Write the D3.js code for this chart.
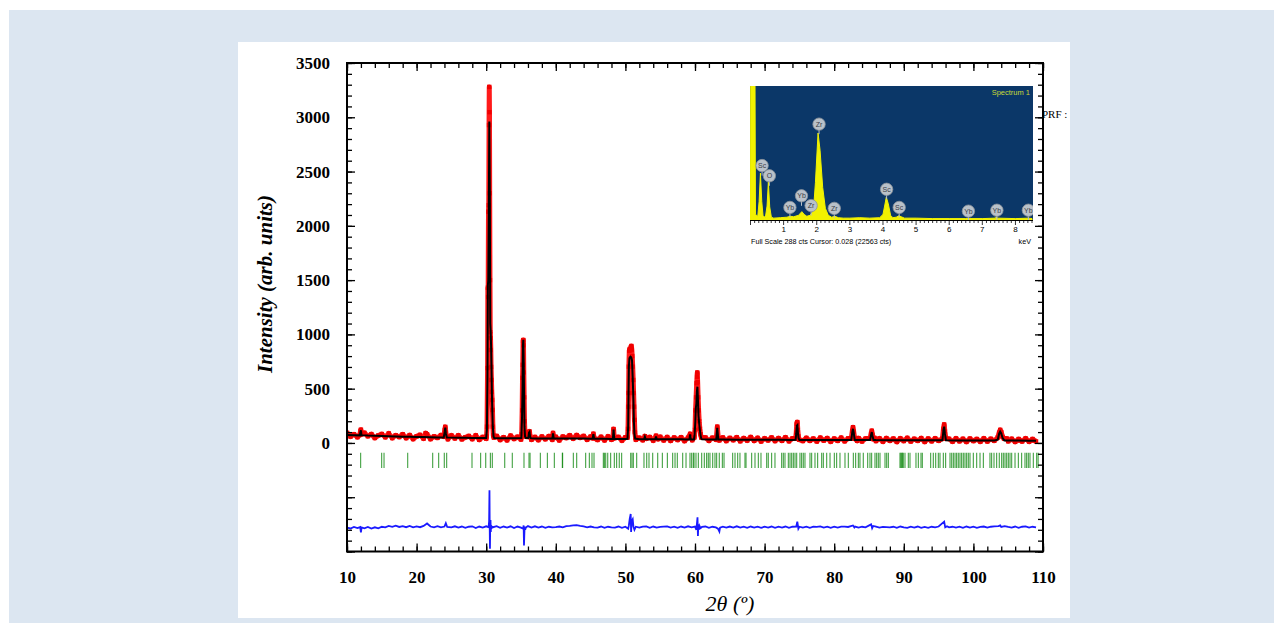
<!DOCTYPE html>
<html><head><meta charset="utf-8">
<script src="https://cdn.jsdelivr.net/npm/d3@7"></script>
<style>html,body{margin:0;padding:0;background:#fff;} svg{display:block;}</style>
</head><body>
<svg id="c" width="1274" height="623"></svg>
<script>
// ---------------- DATA ----------------
const xTickLabels = [10,20,30,40,50,60,70,80,90,100,110];
const yTickLabels = [0,500,1000,1500,2000,2500,3000,3500];

// observed intensity (2theta, counts)
const observed = [
[10,94],[10.5,59],[11,80],[11.5,53],[11.85,74],[11.95,112],[12.0,122],[12.08,80],[12.5,93],[13,62],[13.5,81],[14,46],[14.5,69],[15,82],[15.5,53],[16,88],[16.5,45],[17,70],[17.5,55],[18,80],[18.5,45],[19,72],[19.5,36],[20,61],[20.5,74],[21,40],[21.3,90],[21.5,80],[22,36],[22.5,60],[23,47],[23.5,72],[23.9,58],[24.05,118],[24.12,148],[24.2,96],[24.35,56],[24.5,35],[25,69],[25.5,42],[26,70],[26.5,34],[27,52],[27.5,64],[28,36],[28.5,70],[29,29],[29.5,55],[30,40],
[30.05,60],[30.12,150],[30.2,690],[30.24,1430],[30.28,1344],[30.33,2130],[30.37,2190],[30.41,2928],[30.44,3280],[30.47,3047],[30.5,2300],[30.54,1500],[30.58,1020],[30.62,967],[30.66,856],[30.7,700],[30.75,580],[30.8,470],[30.85,396],[30.9,304],[30.96,150],[31.02,70],[31.1,50],
[31.5,64],[32,28],[32.5,52],[33,25],[33.5,67],[34,37],[34.5,57],[35,32],
[35.1,80],[35.17,300],[35.22,600],[35.26,720],[35.3,940],[35.33,948],[35.36,900],[35.4,650],[35.45,420],[35.5,200],[35.56,100],[35.62,60],
[36,56],[36.15,98],[36.22,106],[36.3,62],[36.5,30],[37,55],[37.5,27],[38,59],[38.5,35],[39,62],[39.5,30],[39.6,92],[39.7,50],[40,56],[40.5,24],[41,58],[41.5,46],[42,70],[42.5,40],[43,72],[43.5,48],[44,64],[44.5,30],[45,58],[45.3,44],[45.4,84],[45.5,46],[46,28],[46.5,56],[47,24],[47.5,60],[48,30],[48.2,42],[48.3,128],[48.4,44],[49,55],[49.5,22],[50,52],
[50.3,50],[50.38,130],[50.43,334],[50.46,460],[50.5,703],[50.56,850],[50.62,865],[50.7,855],[50.78,880],[50.86,893],[50.92,860],[50.98,800],[51.05,703],[51.12,580],[51.18,460],[51.24,334],[51.3,212],[51.36,100],[51.45,50],
[51.5,30],[52,48],[52.5,26],[52.8,62],[53,40],[53.5,54],[54,22],[54.4,66],[54.7,36],[55,56],[55.5,24],[56,54],[56.5,20],[57,50],[57.5,28],[58,52],[58.5,18],[59,48],[59.3,83],[59.6,26],
[59.9,50],[60.0,120],[60.08,300],[60.16,420],[60.24,550],[60.3,610],[60.33,648],[60.38,560],[60.45,420],[60.52,300],[60.6,200],[60.7,130],[60.8,80],[60.9,50],
[61.5,50],[62,20],[62.5,48],[63.05,30],[63.2,150],[63.35,44],[63.5,24],[64,50],[64.5,18],[65,46],[65.5,26],[66,52],[66.5,16],[67,44],[67.5,22],[68,54],[68.5,20],[69,46],[69.5,14],[70,42],[70.5,24],[71,50],[71.5,18],[72,44],[72.5,20],[73,52],[73.5,16],[74,42],
[74.45,40],[74.55,95],[74.62,178],[74.7,192],[74.77,120],[74.85,60],[74.95,30],
[75.5,18],[76,46],[76.5,20],[77,40],[77.5,14],[78,48],[78.5,22],[79,44],[79.5,12],[80,40],[80.5,20],[81,48],[81.5,16],[82,42],
[82.45,40],[82.6,110],[82.7,145],[82.8,105],[82.95,40],
[83.3,20],[83.5,44],[84,14],[84.5,40],
[85.15,40],[85.3,85],[85.4,112],[85.5,75],[85.65,35],
[85.8,46],[86,18],[86.5,42],[87,12],[87.5,44],[88,20],[88.5,40],[89,10],[89.5,42],[90,18],[90.5,46],[91,14],[91.5,38],[92,20],[92.5,44],[93,10],[93.5,40],[94,16],[94.5,42],[95,20],
[95.55,40],[95.7,130],[95.8,170],[95.9,105],[96.05,40],
[96.5,38],[97,12],[97.5,42],[98,16],[98.5,38],[99,10],[99.5,40],[100,18],[100.5,36],[101,12],[101.5,42],[102,14],[102.5,38],[103,20],
[103.5,50],[103.7,95],[103.85,120],[104.0,100],[104.2,55],[104.4,40],
[104.8,40],[105,16],[105.5,38],[106,10],[106.5,36],[107,14],[107.5,42],[108,12],[108.5,36],[109,14]
];

// calculated profile (2theta, counts)
const calculated = [
[10,74],[11,72],[11.85,70],[11.95,108],[12.0,116],[12.08,72],[13,68],[14,66],[15,64],[16,62],[17,60],[18,58],[19,56],[20,55],[21,54],[22,52],[23,51],[23.9,50],[24.05,108],[24.12,142],[24.2,88],[24.35,50],[25,49],[26,48],[27,47],[28,46],[29,45],[30,45],
[30.1,120],[30.18,600],[30.24,1450],[30.3,1500],[30.38,2200],[30.45,2960],[30.52,2300],[30.58,1100],[30.63,1040],[30.7,900],[30.76,700],[30.82,450],[30.88,300],[30.95,150],[31.05,60],[31.15,46],
[32,44],[33,43],[34,43],[35.05,45],[35.15,240],[35.22,500],[35.28,900],[35.33,950],[35.38,780],[35.43,500],[35.5,150],[35.58,60],[35.7,45],
[36.05,45],[36.15,96],[36.22,102],[36.3,58],[36.4,44],[37,41],[38,41],[39,40],[39.5,40],[39.6,88],[39.7,42],[40,40],[41,40],[42,41],[43,41],[44,40],[45,39],[45.3,39],[45.4,80],[45.5,40],[46,38],[47,38],[48,37],[48.2,37],[48.3,124],[48.4,38],[49,37],[50,36],
[50.3,38],[50.4,150],[50.45,450],[50.5,700],[50.58,780],[50.65,790],[50.72,795],[50.8,790],[50.88,780],[50.95,760],[51.05,600],[51.15,400],[51.22,200],[51.3,80],[51.4,40],
[52,35],[52.7,35],[52.8,56],[52.9,35],[53,35],[54,34],[54.3,34],[54.4,60],[54.5,34],[55,34],[56,33],[57,33],[58,33],[59,32],[59.2,32],[59.3,80],[59.4,32],
[59.85,32],[59.95,80],[60.05,200],[60.12,322],[60.2,360],[60.28,480],[60.35,518],[60.42,400],[60.5,250],[60.6,180],[60.7,120],[60.8,70],[60.9,40],[61,33],
[62,31],[63.05,31],[63.2,140],[63.35,32],[64,31],[66,30],[68,30],[70,29],[72,29],[74,28],
[74.45,29],[74.55,85],[74.63,160],[74.71,165],[74.78,100],[74.88,45],[75.0,28],
[76,28],[78,27],[80,27],[82,27],[82.45,27],[82.6,100],[82.7,130],[82.8,95],[82.95,28],[84,26],
[85.15,26],[85.3,75],[85.4,100],[85.5,65],[85.65,27],[86,26],[88,25],[90,25],[92,25],[94,24],[95,24],
[95.55,25],[95.7,120],[95.8,150],[95.9,90],[96.05,25],[98,23],[100,23],[102,23],[103,22],
[103.5,30],[103.7,85],[103.85,104],[104.0,88],[104.2,45],[104.45,23],[106,22],[108,21],[109,21]
];

// difference (obs - calc), plotted with an offset
const diffOffset = -780;
const difference = [
[10,0],[10.5,-8],[11,6],[11.5,-5],[11.9,5],[12.0,-45],[12.1,2],[12.5,-6],[13,7],[13.5,-8],[14,3],[14.5,-7],[15,8],[15.5,2],[16,16],[16.5,8],[17,18],[17.5,6],[18,14],[18.5,4],[19,16],[19.5,2],[20,12],[20.5,4],[21,16],[21.5,38],[22,10],[22.5,3],[23,14],[23.5,2],[24,10],[24.2,40],[24.4,6],[25,2],[25.5,12],[26,0],[26.5,10],[27,-2],[27.5,8],[28,12],[28.5,-4],[29,10],[29.5,0],[30,12],
[30.35,4],[30.42,60],[30.47,345],[30.5,40],[30.54,-195],[30.58,60],[30.62,70],[30.66,-40],[30.7,20],[30.76,-10],[30.85,8],
[31,4],[31.5,14],[32,-2],[32.5,10],[33,0],[33.5,12],[34,-4],[34.5,10],[35,0],[35.3,-10],[35.38,20],[35.43,-165],[35.47,-80],[35.52,10],[35.6,-20],[35.7,0],
[36,14],[36.5,0],[37,12],[37.5,0],[38,10],[38.5,-2],[39,8],[39.5,2],[40,4],[40.5,10],[41,2],[41.5,14],[42,16],[42.5,20],[43,22],[43.5,16],[44,12],[44.5,2],[45,10],[45.5,2],[46,0],[46.5,10],[47,-2],[47.5,8],[48,2],[48.5,0],[49,10],[49.5,-2],[50,8],
[50.4,-10],[50.5,20],[50.62,80],[50.76,125],[50.82,-40],[50.9,60],[51.05,77],[51.15,10],[51.3,-20],
[51.5,8],[52,0],[52.5,10],[53,12],[53.5,-2],[54,10],[54.5,0],[55,6],[55.5,10],[56,12],[56.5,0],[57,8],[57.5,-2],[58,10],[58.5,0],[59,12],[59.5,2],[60,10],
[60.2,-20],[60.36,95],[60.42,-77],[60.48,30],[60.55,-20],[60.65,15],[60.8,-5],
[61,6],[61.5,10],[62,-2],[62.5,8],[63,2],[63.3,-10],[63.5,-37],[63.6,0],[64,8],[64.5,0],[65,10],[65.5,0],[66,12],[66.5,0],[67,8],[67.5,-2],[68,10],[68.5,0],[69,8],[69.5,-2],[70,8],[70.5,0],[71,10],[71.5,-2],[72,8],[72.5,0],[73,10],[73.5,-2],[74,8],
[74.55,10],[74.7,55],[74.85,-10],
[75,8],[75.5,0],[76,8],[76.5,-2],[77,8],[77.5,6],[78,12],[78.5,0],[79,8],[79.5,-2],[80,8],[80.5,0],[81,10],[81.5,10],[82,6],[82.7,20],[82.9,2],[83,10],[83.5,0],[84,8],[84.5,2],[85.3,30],[85.45,-5],[85.6,15],
[86,10],[86.5,0],[87,6],[87.5,4],[88,2],[88.5,8],[89,-2],[89.5,10],[90,2],[90.5,-2],[91,8],[91.5,0],[92,10],[92.5,-2],[93,6],[93.5,-2],[94,8],[94.5,2],[95,10],[95.8,55],[95.95,2],
[96.2,12],[96.5,2],[97,8],[97.5,0],[98,8],[98.5,-2],[99,10],[99.5,0],[100,8],[100.5,-2],[101,6],[101.5,10],[102,0],[102.5,8],[103,12],[103.6,14],[103.85,20],[104,6],[104.5,14],[105,6],[105.5,0],[106,10],[106.5,-2],[107,8],[107.5,12],[108,0],[108.5,8],[109,2]
];

// Bragg reflection positions (2theta)
const braggPositions = [11.96,14.98,15.32,18.72,22.31,23.17,23.98,24.32,27.96,29.2,29.93,30.6,30.88,32.66,33.75,35.43,36.15,36.3,37.78,38.79,39.79,40.94,40.98,42.52,43.0,44.29,44.82,45.2,45.49,46.83,46.98,47.17,47.46,47.88,48.41,48.74,49.12,49.46,50.76,50.95,51.14,51.62,52.67,53.06,53.39,53.92,54.64,55.31,56.03,56.79,57.13,57.46,58.23,58.71,59.28,59.52,59.76,59.86,60.14,60.48,60.96,61.34,61.67,61.91,62.15,62.54,62.87,63.11,63.49,63.93,64.17,65.41,65.75,66.13,66.46,67.18,67.33,68.14,68.62,69.1,69.48,70.3,70.53,71.01,71.49,72.45,72.69,72.93,73.41,73.65,73.89,74.13,74.37,74.61,75.08,75.32,75.56,75.8,76.52,76.76,77.24,77.62,78.2,78.44,78.92,79.4,80.02,80.35,80.83,81.55,82.03,82.75,83.08,83.47,83.7,84.18,84.81,85.14,85.38,85.86,86.1,86.34,86.58,87.3,87.54,87.78,89.45,89.57,89.69,89.81,89.93,90.17,90.65,90.89,91.75,92.09,92.47,92.66,93.86,94.24,94.58,94.96,95.2,95.68,96.01,96.64,96.88,97.12,97.36,97.59,97.83,98.07,98.31,98.55,98.79,99.03,99.27,99.51,99.99,100.47,100.95,101.43,102.38,102.62,102.96,103.34,103.72,104.06,104.3,104.54,104.78,105.02,105.26,105.5,105.98,106.46,106.93,107.41,107.65,107.89,108.13,108.61,109.09,109.3];

// EDS inset spectrum (keV, counts)
const edsSpectrum = [[0,0],[0.01,420],[0.13,420],[0.15,12],[0.22,8],[0.26,40],[0.3,101],[0.34,40],[0.38,8],[0.45,6],[0.5,30],[0.54,82],[0.58,28],[0.63,6],[0.7,4],[0.9,5],[1.1,6],[1.2,8],[1.3,7],[1.45,10],[1.55,18],[1.62,12],[1.7,8],[1.8,10],[1.9,20],[1.96,80],[2.04,187],[2.1,150],[2.18,70],[2.26,25],[2.35,10],[2.45,6],[2.55,8],[2.65,5],[2.8,4],[3.0,4],[3.3,5],[3.6,4],[3.9,5],[4.0,12],[4.05,30],[4.1,49],[4.16,35],[4.23,10],[4.3,5],[4.4,6],[4.48,9],[4.55,7],[4.65,4],[5,4],[5.5,3],[6,3],[6.5,3],[7,3],[7.4,4],[7.42,7],[7.45,4],[8,3],[8.4,4],[8.5,3]];
const edsLabelText = ["Sc","O","Yb","Yb","Zr","Zr","Zr","Sc","Sc","Yb","Yb","Yb"];
const edsLabelKeV  = [0.35,0.57,1.19,1.54,1.83,2.07,2.53,4.11,4.49,6.58,7.44,8.39];
const edsLabelCts  = [117,95,27,52,31,206,25,66,27,19,21,21];
const edsTickLabels = [1,2,3,4,5,6,7,8];

// ---------------- DRAW ----------------
const svg = d3.select('#c');
svg.append('rect').attr('x',9).attr('y',10).attr('width',1265).attr('height',613).attr('fill','#dce6f1');
svg.append('rect').attr('x',238).attr('y',42).attr('width',832).attr('height',576).attr('fill','#ffffff');

const x = d3.scaleLinear().domain([10,110]).range([347,1043]);
const y = d3.scaleLinear().domain([-1000,3500]).range([551.5,63]);

const defs = svg.append('defs');
defs.append('clipPath').attr('id','plotclip').append('rect')
  .attr('x',347).attr('y',63).attr('width',696).attr('height',488.5);

const plot = svg.append('g').attr('clip-path','url(#plotclip)');

// Bragg ticks
plot.append('g').selectAll('line').data(braggPositions).join('line')
  .attr('x1',d=>x(d)).attr('x2',d=>x(d))
  .attr('y1',y(-90)).attr('y2',y(-230))
  .attr('stroke','#138a13').attr('stroke-width',1.1).attr('stroke-opacity',0.8);

// observed
const line = d3.line().x(d=>x(d[0])).y(d=>y(d[1]));
plot.append('path').datum(observed).attr('d',line)
  .attr('fill','none').attr('stroke','#ff1a1a').attr('stroke-width',5).attr('stroke-linejoin','round');
plot.append('g').selectAll('rect').data(observed).join('rect')
  .attr('x',d=>x(d[0])-2.2).attr('y',d=>y(d[1])-2.2).attr('width',4.4).attr('height',4.4)
  .attr('fill','#f00000');

// calculated
plot.append('path').datum(calculated).attr('d',line)
  .attr('fill','none').attr('stroke','#000').attr('stroke-width',2);

// difference
const dline = d3.line().x(d=>x(d[0])).y(d=>y(d[1]+diffOffset));
plot.append('path').datum(difference).attr('d',dline)
  .attr('fill','none').attr('stroke','#1a1aff').attr('stroke-width',1.8);

// axes
const font = '"Liberation Serif","Times New Roman",serif';
function styleAxis(g){
  g.select('.domain').remove();
  g.selectAll('.tick line').attr('stroke','#000').attr('stroke-width',1.3);
  g.selectAll('text').attr('font-family',font).attr('font-weight','bold').attr('font-size',17).attr('fill','#000');
}
const xMinor = d3.range(10,110.01,2);
const yMinor = d3.range(-1000,3500.01,100);
const yMajor = d3.range(-1000,3500.01,500);

svg.append('g').attr('transform','translate(0,551.5)')
  .call(d3.axisBottom(x).tickValues(xMinor).tickSize(-5).tickFormat('')).call(styleAxis);
svg.append('g').attr('transform','translate(0,551.5)')
  .call(d3.axisBottom(x).tickValues(xTickLabels).tickSize(-8).tickPadding(19).tickFormat(d3.format('d'))).call(styleAxis);
svg.append('g').attr('transform','translate(0,63)')
  .call(d3.axisTop(x).tickValues(xMinor).tickSize(-5).tickFormat('')).call(styleAxis);
svg.append('g').attr('transform','translate(0,63)')
  .call(d3.axisTop(x).tickValues(xTickLabels).tickSize(-8).tickFormat('')).call(styleAxis);

svg.append('g').attr('transform','translate(347,0)')
  .call(d3.axisLeft(y).tickValues(yMinor).tickSize(-5).tickFormat('')).call(styleAxis);
svg.append('g').attr('transform','translate(347,0)')
  .call(d3.axisLeft(y).tickValues(yMajor).tickSize(-8).tickPadding(17)
    .tickFormat(d=> yTickLabels.includes(d) ? String(d) : '')).call(styleAxis);
svg.append('g').attr('transform','translate(1043,0)')
  .call(d3.axisRight(y).tickValues(yMinor).tickSize(-5).tickFormat('')).call(styleAxis);
svg.append('g').attr('transform','translate(1043,0)')
  .call(d3.axisRight(y).tickValues(yMajor).tickSize(-8).tickFormat('')).call(styleAxis);

svg.append('rect').attr('x',347).attr('y',63).attr('width',696).attr('height',488.5)
  .attr('fill','none').attr('stroke','#000').attr('stroke-width',2);

// axis titles
svg.append('text').attr('x',730).attr('y',611).attr('text-anchor','middle')
  .attr('font-family',font).attr('font-style','italic').attr('font-size',22).text('2θ (º)');
svg.append('text').attr('transform','translate(272,284) rotate(-90)').attr('text-anchor','middle')
  .attr('font-family',font).attr('font-style','italic').attr('font-weight','bold').attr('font-size',21)
  .text('Intensity (arb. units)');

// PRF label
svg.append('text').attr('x',1042).attr('y',118).attr('font-family',font).attr('font-size',11).text('PRF :');

// ---------------- INSET (EDS) ----------------
const ex = d3.scaleLinear().domain([0,8.5]).range([750.5,1032]);
const ey = d3.scaleLinear().domain([0,288]).range([220,86]);
const inset = svg.append('g');
inset.append('rect').attr('x',750).attr('y',86).attr('width',283).attr('height',161).attr('fill','#fff');
inset.append('rect').attr('x',750).attr('y',86).attr('width',283).attr('height',134).attr('fill','#0b3768');
defs.append('clipPath').attr('id','edsclip').append('rect').attr('x',750).attr('y',86).attr('width',283).attr('height',134);
inset.append('path').datum(edsSpectrum).attr('clip-path','url(#edsclip)')
  .attr('d',d3.area().x(d=>ex(d[0])).y0(ey(0)).y1(d=>ey(d[1])))
  .attr('fill','#f2f200').attr('stroke','#f2f200').attr('stroke-width',1);
inset.append('text').attr('x',1030).attr('y',95).attr('text-anchor','end')
  .attr('font-family','"Liberation Sans",Arial,sans-serif').attr('font-size',7.5).attr('fill','#c9d838').text('Spectrum 1');
// labels
const lab = inset.append('g').selectAll('g').data(edsLabelText.map((t,i)=>({t,k:edsLabelKeV[i],c:edsLabelCts[i]}))).join('g')
  .attr('clip-path','url(#edsclip)');
lab.append('line').attr('x1',d=>ex(d.k)).attr('x2',d=>ex(d.k)).attr('y1',d=>ey(d.c)+5).attr('y2',d=>ey(d.c)+10)
  .attr('stroke','#b8c0c8').attr('stroke-width',1);
lab.append('circle').attr('cx',d=>ex(d.k)).attr('cy',d=>ey(d.c)).attr('r',6.2)
  .attr('fill','#b9c1c9').attr('stroke','#8a929a').attr('stroke-width',0.8);
lab.append('text').attr('x',d=>ex(d.k)).attr('y',d=>ey(d.c)+2.5).attr('text-anchor','middle')
  .attr('font-family','"Liberation Sans",Arial,sans-serif').attr('font-size',7).attr('fill','#3a4048').text(d=>d.t);
// inset axis strip
inset.append('line').attr('x1',750).attr('x2',1033).attr('y1',220.5).attr('y2',220.5).attr('stroke','#000').attr('stroke-width',1);
inset.append('g').selectAll('line').data(d3.range(0,8.51,0.125)).join('line')
  .attr('x1',d=>ex(d)).attr('x2',d=>ex(d)).attr('y1',221).attr('y2',d=> Math.abs(d-Math.round(d))<1e-6 ? 225 : 223)
  .attr('stroke','#000').attr('stroke-width',0.8);
inset.append('g').selectAll('text').data(edsTickLabels).join('text')
  .attr('x',d=>ex(d)).attr('y',232).attr('text-anchor','middle')
  .attr('font-family','"Liberation Sans",Arial,sans-serif').attr('font-size',8).text(d=>d);
inset.append('text').attr('x',751).attr('y',244).attr('font-family','"Liberation Sans",Arial,sans-serif')
  .attr('font-size',7.2).text('Full Scale 288 cts Cursor: 0.028  (22563 cts)');
inset.append('text').attr('x',1031).attr('y',244).attr('text-anchor','end').attr('font-family','"Liberation Sans",Arial,sans-serif')
  .attr('font-size',7.2).text('keV');
</script>
</body></html>
